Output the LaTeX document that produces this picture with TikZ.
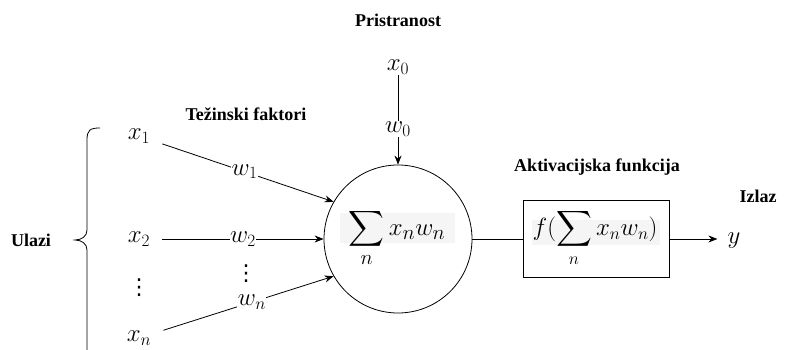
\documentclass[tikz,border=0pt]{standalone}
\usepackage{exscale}
\usepackage{fontspec}
\setmainfont{Liberation Serif}
\newfontfamily\djv{DejaVu Sans}
\usetikzlibrary{arrows.meta}
\begin{document}
\begin{tikzpicture}[x=1pt,y=-1pt,
  lbl/.style={font=\fontsize{18}{21}\selectfont\bfseries, inner sep=0pt},
  mth/.style={font=\fontsize{23}{26}\selectfont, inner sep=1pt},
  dts/.style={font=\djv\fontsize{22}{24}\selectfont, inner sep=0pt},
  wl/.style={font=\fontsize{23}{26}\selectfont, fill=white, inner sep=0.5pt},
  arr/.style={draw, line width=0.8pt, -{Stealth[length=9pt,width=7pt]}},
  ln/.style={draw, line width=0.8pt}]
\useasboundingbox (0,0) rectangle (785,350);
% labels
\node[lbl] (prist) at (398,20) {Pristranost};
\node[lbl] (tez) at (246,114) {Težinski faktori};
\node[lbl] (akt) at (597,167) {Aktivacijska funkcija};
\node[lbl] (izl) at (758,196) {Izlaz};
\node[lbl] (ul) at (31,240) {Ulazi};
% inputs
\node[mth, inner xsep=12pt] (x0) at (398,67) {$x_0$};
\node[mth, inner xsep=12pt] (x1) at (139,136) {$x_1$};
\node[mth, inner xsep=12pt] (x2) at (139,239) {$x_2$};
\node[dts] (xd) at (139,288) {⋮};
\node[mth, inner xsep=12pt] (xn) at (139,338) {$x_n$};
% neuron
\node[draw, circle, line width=0.8pt, minimum size=148pt, inner sep=0pt] (c) at (398,239) {};
\fill[black!4] (340,213) rectangle (455,243);
\node[font=\fontsize{28}{32}\selectfont, inner sep=0pt] (sum) at (397,238) {$\displaystyle\sum_n x_n w_n$};
\node[draw, line width=0.8pt, minimum width=146pt, minimum height=77pt, inner sep=0pt] (box) at (596,239) {};
\fill[black!4] (532,220) rectangle (660,245);
\node[font=\fontsize{25}{29}\selectfont, inner sep=0pt] (fsum) at (595,238) {$f(\displaystyle\sum_n x_n w_n)$};
\node[mth, inner xsep=10pt] (y) at (734,241) {$y$};
% connectors
\draw[arr] (x0) -- node[wl, pos=0.6] (w0) {$w_0$} (c.north);
\draw[arr] (x1) -- node[wl, pos=0.48] (w1) {$w_1$} (c.150);
\draw[arr] (x2.east) -- node[wl, pos=0.5] (w2) {$w_2$} (c.west);
\node[dts] (wd) at (246,274) {⋮};
\draw[arr] (xn) -- node[wl, pos=0.52] (wn) {$w_n$} (c.210);
\draw[ln] (c.east) -- (box.west);
\draw[arr] (box.east) -- (box.east -| y.west);
% brace
\draw[line width=0.8pt] (100,128) .. controls (90,128) and (87,130) .. (87,140)
  -- (87,230) .. controls (87,236) and (82,240) .. (75,240)
  .. controls (82,240) and (87,244) .. (87,250) -- (87,352);
\end{tikzpicture}
\end{document}
